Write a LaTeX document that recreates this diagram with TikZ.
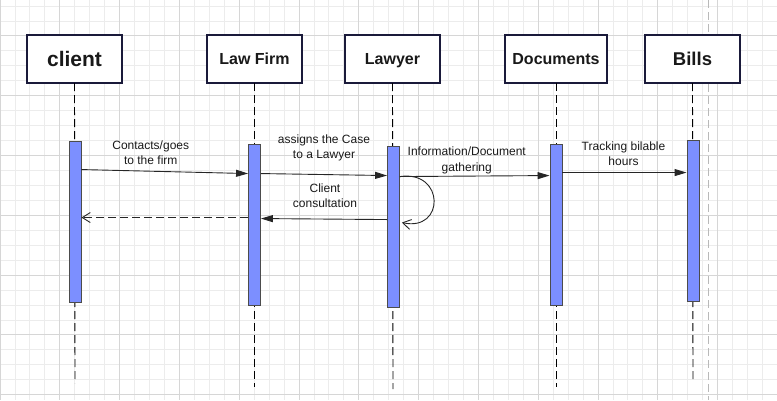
\documentclass[tikz,border=0pt]{standalone}
\usepackage{fontspec}
\setmainfont{Liberation Sans}
\usepackage{xcolor}
\usetikzlibrary{arrows.meta,positioning,calc}
\definecolor{barblue}{RGB}{124,143,255}
\definecolor{navy}{RGB}{26,26,58}
\definecolor{gridminor}{RGB}{236,236,236}
\definecolor{gridmajor}{RGB}{214,214,214}
\definecolor{pagegrey}{RGB}{185,185,185}

\begin{document}
\begin{tikzpicture}[x=1pt,y=-1pt,node distance=85pt,
  head/.style={draw=navy,line width=1.2pt,fill=white,minimum width=95pt,minimum height=48pt,inner sep=0pt,outer sep=0pt,
    font=\bfseries\fontsize{16}{19}\selectfont,text=black!90,text height=11.5pt,text depth=0pt},
  bar/.style={draw=black!70,line width=0.9pt,fill=barblue,minimum width=12pt,minimum height=161pt,inner sep=0pt},
  life/.style={dash pattern=on 8pt off 4pt,line width=0.9pt},
  msg/.style={-{Triangle[length=12pt,width=7pt]},line width=0.9pt,black!85},
  ret/.style={-{Straight Barb[length=8pt,width=10pt]},line width=0.9pt,black!85},
  lbl/.style={font=\fontsize{12}{15.4}\selectfont,align=center,inner sep=1pt,text=black!90}]
\useasboundingbox (0,0) rectangle (777,400);
% background grid
\foreach \i in {0,...,52} \draw[gridminor,line width=0.9pt] (\i*14.95,0) -- (\i*14.95,400);
\foreach \j in {0,...,26} \draw[gridminor,line width=0.9pt] (0,6+\j*14.95) -- (777,6+\j*14.95);
\foreach \i in {0,...,13} \draw[gridmajor,line width=0.9pt] (\i*59.8,0) -- (\i*59.8,400);
\foreach \j in {0,...,6} \draw[gridmajor,line width=0.9pt] (0,35.9+\j*59.8) -- (777,35.9+\j*59.8);
\draw[pagegrey,line width=0.9pt,dash pattern=on 8pt off 4pt] (708.5,0) -- (708.5,400);

% heads
\node[head,font=\bfseries\fontsize{21}{24}\selectfont,text height=15pt] (cli) at (74.5,59) {client};
\node[head,right=of cli] (firm) {Law Firm};
\node[head,right=43pt of firm] (lwy) {Lawyer};
\node[head,right=65pt of lwy,minimum width=102pt] (docs) {Documents};
\node[head,right=38pt of docs,font=\bfseries\fontsize{18.5}{22}\selectfont,text height=13.3pt] (bill) {Bills};

% lifelines
\coordinate (cliend) at (75,383);
\coordinate (firmend) at (254.5,387);
\coordinate (lwyend) at (393,389);
\coordinate (docsend) at (556,387);
\coordinate (billend) at (693,382);
\draw[life] (cli.south) -- (cliend);
\draw[life] (firm.south) -- (firmend);
\draw[life] (lwy.south) -- (lwyend);
\draw[life] (docs.south) -- (docsend);
\draw[life] (bill.south) -- (billend);

% activations
\node[bar] (clibar) at (75,221.5) {};
\node[bar] (firmbar) at (254.5,224.5) {};
\node[bar] (lwybar) at (393.5,226.5) {};
\node[bar] (docsbar) at (556,224.5) {};
\node[bar] (billbar) at (693,220.5) {};

% messages
\draw[msg] ($(clibar.north east)+(0,29)$) -- node[lbl,above=5pt,xshift=-14pt]{Contacts/goes\\to the firm} ($(firmbar.north west)+(0,30)$);
\draw[msg] ($(firmbar.north east)+(0,30)$) -- node[lbl,above=12pt]{assigns the Case\\to a Lawyer} ($(lwybar.north west)+(0,30)$);
\draw[msg] ($(lwybar.north west)+(0,74)$) -- node[lbl,above=10pt,xshift=1pt]{Client\\consultation} ($(firmbar.north east)+(0,75)$);
\draw[ret,dash pattern=on 8pt off 4pt] ($(firmbar.north west)+(0,74)$) -- ($(clibar.north east)+(0,77)$);
\draw[msg] ($(lwybar.north east)+(0,31)$) -- node[lbl,above=1pt,xshift=-8pt]{Information/Document\\gathering} ($(docsbar.north west)+(0,32)$);
\draw[ret] ($(lwybar.north east)+(0,31)$) .. controls (445,170) and (445,232) .. ($(lwybar.north east)+(2,77)$);
\draw[msg] ($(docsbar.north east)+(0,29)$) -- node[lbl,above=5pt,xshift=-1pt]{Tracking bilable\\hours} ($(billbar.north west)+(0,33)$);
\end{tikzpicture}
\end{document}
